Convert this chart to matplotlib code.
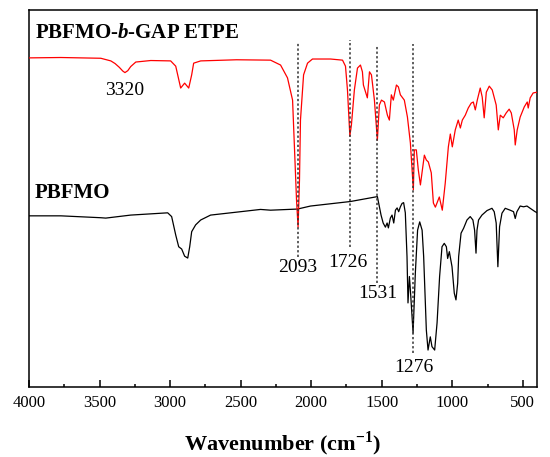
import matplotlib
matplotlib.use('Agg')
import matplotlib.pyplot as plt
from matplotlib.ticker import MultipleLocator

plt.rcParams['font.family'] = ['Liberation Serif', 'DejaVu Serif']
plt.rcParams['mathtext.fontset'] = 'custom'
plt.rcParams['mathtext.rm'] = 'Liberation Serif'
plt.rcParams['mathtext.bf'] = 'Liberation Serif:bold'
plt.rcParams['mathtext.bfit'] = 'Liberation Serif:italic:bold'

# FTIR spectra, transmittance offset (a.u.)
gap_wn = [4000, 3774, 3491, 3420, 3390, 3360, 3335, 3320, 3300, 3279, 3243, 3137,
          2996, 2960, 2925, 2897, 2868, 2847, 2833, 2783, 2529, 2288, 2217, 2168,
          2132, 2118, 2104, 2093, 2083, 2076, 2054, 2026, 1991, 1863, 1778, 1757,
          1743, 1726, 1715, 1694, 1672, 1651, 1637, 1630, 1602, 1587, 1573, 1552,
          1531, 1517, 1502, 1481, 1460, 1446, 1432, 1418, 1396, 1382, 1368, 1340,
          1318, 1297, 1276, 1269, 1255, 1241, 1226, 1212, 1198, 1184, 1170, 1149,
          1134, 1120, 1092, 1071, 1050, 1028, 1014, 1000, 979, 958, 943, 929, 908,
          887, 866, 851, 837, 823, 802, 788, 774, 759, 738, 717, 689, 674, 660,
          639, 618, 597, 582, 561, 554, 540, 519, 490, 469, 462, 448, 427, 398]
gap_t = [87.3, 87.4, 87.2, 86.5, 85.8, 84.8, 83.8, 83.4, 83.9, 85.0, 86.2, 86.6,
         86.5, 85.1, 79.3, 80.6, 79.3, 82.8, 85.9, 86.5, 86.8, 86.7, 85.4, 82.0,
         76.1, 62.9, 49.6, 42.4, 54.9, 70.8, 82.8, 85.9, 87.0, 87.0, 86.7, 85.1,
         78.8, 66.6, 69.5, 78.8, 84.6, 85.4, 83.6, 80.1, 76.7, 83.6, 82.8, 76.1,
         65.5, 74.8, 76.1, 75.6, 72.1, 70.8, 77.5, 76.1, 80.1, 79.6, 77.5, 76.1,
         71.6, 64.7, 52.3, 62.9, 62.9, 57.6, 53.6, 57.6, 61.5, 60.2, 59.7, 56.8,
         48.8, 47.7, 50.4, 46.9, 54.1, 63.7, 67.1, 63.7, 68.2, 70.8, 68.7, 70.8, 72.1,
         74.0, 75.3, 75.6, 73.5, 76.1, 79.3, 76.9, 71.4, 78.2, 79.8, 78.8, 74.8, 68.2, 72.1,
         71.4, 72.7, 73.7, 72.7, 68.2, 64.2, 68.2, 71.6, 74.3, 75.6, 74.0, 76.7, 78.0, 78.2]

pb_wn = [4000, 3774, 3491, 3456, 3279, 3017, 2989, 2960, 2939, 2918, 2897, 2875,
         2861, 2847, 2819, 2783, 2713, 2500, 2359, 2288, 2097, 2005, 1722, 1531,
         1505, 1490, 1474, 1462, 1453, 1439, 1427, 1415, 1403, 1391, 1380, 1368,
         1356, 1345, 1333, 1321, 1314, 1304, 1297, 1278, 1262, 1246, 1231, 1214,
         1203, 1184, 1172, 1156, 1144, 1125, 1108, 1090, 1073, 1057, 1042, 1033,
         1021, 1002, 986, 974, 962, 955, 938, 920, 896, 873, 854, 842, 832, 825,
         814, 790, 754, 719, 703, 689, 677, 665, 648, 625, 590, 566, 554, 542, 519,
         495, 471, 448, 413, 398]
pb_t = [45.4, 45.4, 44.9, 44.8, 45.6, 46.2, 45.2, 40.3, 37.2, 36.6, 34.7, 34.2,
        37.2, 41.2, 43.0, 44.3, 45.6, 46.5, 47.1, 46.9, 47.2, 48.0, 49.2, 50.5,
        45.6, 43.5, 42.4, 43.5, 42.2, 44.8, 45.6, 43.5, 46.9, 47.5, 46.5, 47.8,
        48.7, 48.9, 46.2, 34.6, 22.3, 29.3, 25.7, 14.3, 30.2, 41.6, 43.8, 41.6,
        34.6, 15.1, 9.8, 13.3, 10.7, 9.8, 17.0, 29.3, 37.2, 38.1, 37.2, 34.1,
        35.9, 31.9, 24.9, 23.1, 27.5, 34.6, 40.8, 42.1, 44.3, 45.2, 44.3, 41.6, 35.5, 41.6,
        44.3, 45.6, 46.8, 47.4, 46.5, 43.5, 31.9, 42.5, 46.1, 47.4, 46.9, 46.5, 44.7, 46.5, 48.0,
        47.8, 48.0, 47.4, 46.5, 46.2]

# marked bands: position, dotted line top/bottom, label position
band_pos = [2093, 1726, 1531, 1276]
band_top = [91.2, 92.0, 90.7, 91.0]
band_bottom = [34.5, 37.1, 27.6, 9.0]
band_label_y = [31.8, 32.9, 24.7, 5.3]
band_label_x = [2093, 1740, 1531, 1276]

fig = plt.figure(figsize=(5.5, 4.57), dpi=100)
ax = fig.add_axes([0.0527, 0.1532, 0.9236, 0.8249])

ax.plot(pb_wn, pb_t, color='black', lw=0.9, zorder=2)
ax.plot(gap_wn, gap_t, color='#ff0000', lw=0.9, zorder=3)

for pos, top, bot, ly, lx in zip(band_pos, band_top, band_bottom, band_label_y, band_label_x):
    ax.plot([pos, pos], [bot, top], color='#333333', lw=1.1, ls=(0, (1.5, 1.5)), zorder=4)
    ax.text(lx, ly, str(pos), ha='center', va='center', fontsize=14)

ax.text(3320, 78.6, '3320', ha='center', va='center', fontsize=14)
ax.text(3958, 93.9, r'PBFMO-$\mathbfit{b}$-GAP ETPE', ha='left', va='center',
        fontsize=15, fontweight='bold')
ax.text(3958, 51.5, 'PBFMO', ha='left', va='center', fontsize=15, fontweight='bold')

ax.set_xlim(4000, 400)
ax.set_ylim(0, 100)
ax.xaxis.set_major_locator(MultipleLocator(500))
ax.xaxis.set_minor_locator(MultipleLocator(250))
ax.tick_params(axis='x', which='major', direction='in', length=5, width=1.1,
               labelsize=12, pad=6)
ax.tick_params(axis='x', which='minor', direction='in', length=2.5, width=1.1)
ax.set_yticks([])
for s in ax.spines.values():
    s.set_linewidth(1.1)

ax.set_xlabel(r'Wavenumber (cm$^{\mathregular{-1}}$)', fontsize=16, fontweight='bold',
              labelpad=13)

fig.savefig('out.png', dpi=100)
